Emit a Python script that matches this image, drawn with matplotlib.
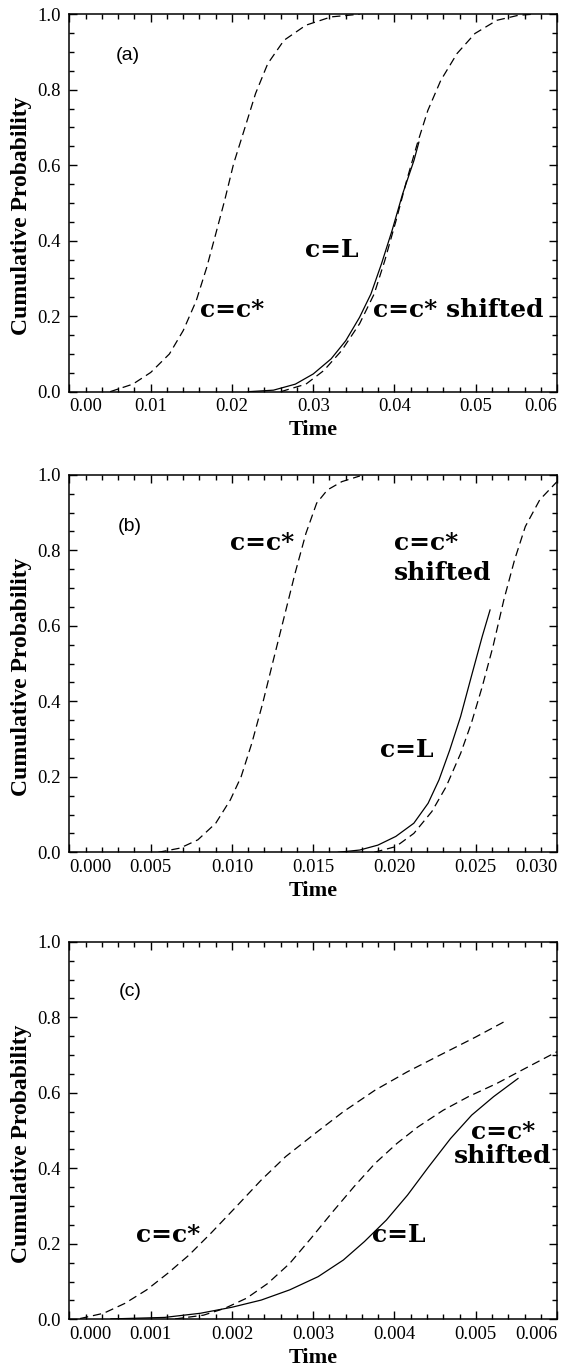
import numpy as np
import matplotlib
matplotlib.use("Agg")
import matplotlib.pyplot as plt
from matplotlib.ticker import MultipleLocator

# ---- panel (a) ----
a_cstar_t = [0.0050, 0.0078, 0.0100, 0.0123, 0.0140, 0.0156, 0.0169, 0.0180, 0.0191,
             0.0202, 0.0216, 0.0229, 0.0244, 0.0264, 0.0291, 0.0322, 0.0357]
a_cstar_p = [0.000, 0.020, 0.051, 0.100, 0.162, 0.241, 0.330, 0.418, 0.507,
             0.604, 0.700, 0.790, 0.869, 0.931, 0.971, 0.993, 1.000]
a_shift_t = [0.0260, 0.0291, 0.0313, 0.0335, 0.0357, 0.0375, 0.0388, 0.0402, 0.0415,
             0.0428, 0.0441, 0.0457, 0.0477, 0.0499, 0.0526, 0.0552, 0.0570]
a_shift_p = [0.000, 0.020, 0.056, 0.109, 0.180, 0.259, 0.347, 0.454, 0.560,
             0.657, 0.745, 0.825, 0.896, 0.949, 0.984, 0.997, 1.000]
a_L_t = [0.0220, 0.0251, 0.0278, 0.0300, 0.0322, 0.0340, 0.0357, 0.0371, 0.0384,
         0.0397, 0.0410, 0.0424, 0.0430]
a_L_p = [0.000, 0.004, 0.020, 0.047, 0.087, 0.135, 0.197, 0.259, 0.339,
         0.427, 0.524, 0.613, 0.661]
a_xticks = [0.00, 0.01, 0.02, 0.03, 0.04, 0.05, 0.06]

# ---- panel (b) ----
b_cstar_t = [0.00547, 0.0068, 0.0079, 0.0090, 0.0099, 0.01056, 0.01122, 0.01189,
             0.01255, 0.01322, 0.01388, 0.01455, 0.01521, 0.01587, 0.01676, 0.01787]
b_cstar_p = [0.000, 0.011, 0.033, 0.077, 0.139, 0.200, 0.289, 0.395,
             0.510, 0.625, 0.739, 0.845, 0.925, 0.960, 0.982, 0.997]
b_shift_t = [0.01875, 0.02008, 0.02119, 0.0223, 0.02318, 0.02407, 0.02473, 0.0254,
             0.02606, 0.02673, 0.02739, 0.02805, 0.02894, 0.0300]
b_shift_p = [0.000, 0.015, 0.050, 0.108, 0.174, 0.262, 0.342, 0.439,
             0.545, 0.669, 0.775, 0.863, 0.934, 0.982]
b_L_t = [0.01654, 0.01787, 0.01898, 0.02008, 0.02119, 0.02207, 0.02274, 0.0234,
         0.02407, 0.02473, 0.0254, 0.02588]
b_L_p = [0.000, 0.006, 0.019, 0.042, 0.077, 0.130, 0.192, 0.271,
         0.360, 0.466, 0.572, 0.642]
b_xticks = [0.000, 0.005, 0.010, 0.015, 0.020, 0.025, 0.030]

# ---- panel (c) ----
c_cstar_t = [0.00013, 0.00042, 0.00068, 0.00095, 0.00121, 0.00147, 0.00174, 0.00205,
             0.00236, 0.00266, 0.00302, 0.00337, 0.00376, 0.00416, 0.00456, 0.0050, 0.00539]
c_cstar_p = [0.002, 0.016, 0.042, 0.078, 0.122, 0.170, 0.228, 0.298,
             0.369, 0.431, 0.492, 0.550, 0.607, 0.656, 0.700, 0.748, 0.793]
c_shift_t = [0.0013, 0.00165, 0.00191, 0.00218, 0.00244, 0.00271, 0.00297, 0.00324,
             0.0035, 0.00376, 0.00403, 0.00429, 0.0046, 0.00491, 0.00526, 0.00561, 0.0060]
c_shift_p = [0.001, 0.011, 0.029, 0.056, 0.095, 0.148, 0.214, 0.285,
             0.351, 0.413, 0.466, 0.510, 0.554, 0.590, 0.625, 0.665, 0.709]
c_L_t = [0.00051, 0.00117, 0.00161, 0.0020, 0.00236, 0.00271, 0.00306, 0.00337,
         0.00363, 0.0039, 0.00416, 0.00442, 0.00469, 0.00495, 0.00522, 0.00552]
c_L_p = [0.001, 0.005, 0.016, 0.032, 0.051, 0.078, 0.113, 0.157,
         0.206, 0.263, 0.329, 0.404, 0.479, 0.541, 0.590, 0.638]
c_xticks = [0.000, 0.001, 0.002, 0.003, 0.004, 0.005, 0.006]

yticks = [0.0, 0.2, 0.4, 0.6, 0.8, 1.0]

plt.rcParams['font.family'] = ['Liberation Serif', 'DejaVu Serif']
plt.rcParams['lines.scale_dashes'] = False

NOTE = dict(family='DejaVu Serif', weight='bold', size=18)
DASH = (6, 3.5)

fig = plt.figure(figsize=(5.64, 13.70), dpi=100)
left, width, height = 0.1232, 0.8644, 0.2755
bottoms = [0.7141, 0.3779, 0.0370]


def draw_panel(ax, cstar, shifted, cl, xticks, minor, fmt, tag, tag_xy, notes):
    ax.plot(cstar[0], cstar[1], color='black', lw=0.9, dashes=DASH)
    ax.plot(shifted[0], shifted[1], color='black', lw=0.9, dashes=DASH)
    ax.plot(cl[0], cl[1], color='black', lw=0.9)

    ax.set_xticks(xticks)
    ax.set_xticklabels([fmt % v for v in xticks])
    ax.xaxis.set_minor_locator(MultipleLocator(minor))
    ax.set_yticks(yticks)
    ax.set_yticklabels(['%.1f' % v for v in yticks])
    ax.yaxis.set_minor_locator(MultipleLocator(0.05))
    # limits after the ticks, so set_xticks cannot widen them
    ax.set_xlim(xticks[0], xticks[-1])
    ax.set_ylim(yticks[0], yticks[-1])
    ax.tick_params(which='both', direction='in', top=True, right=True,
                   labelsize=13.5, width=1.0)
    ax.tick_params(axis='x', which='major', length=6, pad=4.5)
    ax.tick_params(axis='y', which='major', length=6, pad=6.5)
    ax.tick_params(which='minor', length=3.5)
    for s in ax.spines.values():
        s.set_linewidth(1.1)

    ax.set_xlabel('Time', fontsize=16, fontweight='bold', labelpad=4)
    ax.set_ylabel('Cumulative Probability', fontsize=17, fontweight='bold')
    ax.yaxis.set_label_coords(-0.077, 0.465)

    # keep end labels inside the frame, like the original
    labels = ax.get_xticklabels()
    labels[0].set_ha('left')
    labels[-1].set_ha('right')

    ax.text(tag_xy[0], tag_xy[1], tag, transform=ax.transAxes, family='Liberation Sans',
            fontsize=14, ha='center', va='center')
    for (x, y, s, ha) in notes:
        ax.text(x, y, s, transform=ax.transAxes, ha=ha, va='baseline', **NOTE)


ax_a = fig.add_axes([left, bottoms[0], width, height])
draw_panel(ax_a, (a_cstar_t, a_cstar_p), (a_shift_t, a_shift_p), (a_L_t, a_L_p),
           a_xticks, 0.002, '%.2f', '(a)', (0.12, 0.892),
           [(0.267, 0.198, 'c=c*', 'left'),
            (0.483, 0.358, 'c=L', 'left'),
            (0.623, 0.198, 'c=c* shifted', 'left')])

ax_b = fig.add_axes([left, bottoms[1], width, height])
draw_panel(ax_b, (b_cstar_t, b_cstar_p), (b_shift_t, b_shift_p), (b_L_t, b_L_p),
           b_xticks, 0.001, '%.3f', '(b)', (0.123, 0.863),
           [(0.33, 0.801, 'c=c*', 'left'),
            (0.666, 0.801, 'c=c*', 'left'),
            (0.666, 0.722, 'shifted', 'left'),
            (0.636, 0.253, 'c=L', 'left')])

ax_c = fig.add_axes([left, bottoms[2], width, height])
draw_panel(ax_c, (c_cstar_t, c_cstar_p), (c_shift_t, c_shift_p), (c_L_t, c_L_p),
           c_xticks, 0.0002, '%.3f', '(c)', (0.125, 0.868),
           [(0.136, 0.2055, 'c=c*', 'left'),
            (0.62, 0.2055, 'c=L', 'left'),
            (0.889, 0.479, 'c=c*', 'center'),
            (0.889, 0.413, 'shifted', 'center')])

fig.savefig('out.png', dpi=100)
